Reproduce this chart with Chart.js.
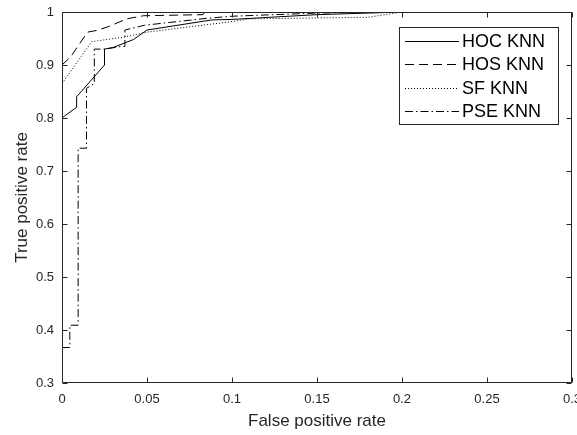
<!DOCTYPE html>
<html>
<head>
<meta charset="utf-8">
<script src="https://cdn.jsdelivr.net/npm/chart.js@4.4.1/dist/chart.umd.min.js"></script>
<style>
  html, body { margin: 0; padding: 0; background: #fff; }
  canvas { display: block; }
</style>
</head>
<body>
<canvas id="roc" width="577" height="435"></canvas>
<script>
// tick labels
const xTicks = [0, 0.05, 0.1, 0.15, 0.2, 0.25, 0.3];
const yTicks = [0.3, 0.4, 0.5, 0.6, 0.7, 0.8, 0.9, 1];

// ROC curves (false positive rate / true positive rate)
const hocFpr = [0, 0.002, 0.0086, 0.0086, 0.025, 0.025, 0.03, 0.042, 0.05, 0.088, 0.1, 0.15, 0.2, 0.3];
const hocTpr = [0.80, 0.805, 0.82, 0.84, 0.90, 0.93, 0.933, 0.948, 0.966, 0.985, 0.986, 0.995, 1, 1];

const hosFpr = [0, 0.005, 0.015, 0.02, 0.027, 0.038, 0.048, 0.083, 0.084, 0.3];
const hosTpr = [0.90, 0.915, 0.962, 0.965, 0.972, 0.987, 0.993, 0.995, 1, 1];

const sfFpr = [0, 0.0175, 0.037, 0.05, 0.07, 0.1, 0.11, 0.18, 0.2, 0.3];
const sfTpr = [0.865, 0.944, 0.953, 0.962, 0.97, 0.982, 0.987, 0.99, 1, 1];

const pseFpr = [0, 0.0046, 0.0046, 0.0095, 0.0095, 0.0144, 0.0144, 0.019, 0.019, 0.025, 0.035, 0.037, 0.037, 0.0485, 0.085, 0.1, 0.15, 0.2, 0.3];
const pseTpr = [0.367, 0.367, 0.409, 0.409, 0.743, 0.743, 0.856, 0.865, 0.93, 0.93, 0.935, 0.935, 0.966, 0.975, 0.988, 0.992, 0.998, 1, 1];

const seriesNames = ['HOC KNN', 'HOS KNN', 'SF KNN', 'PSE KNN'];

const AXIS = '#262626';
const FONT = '"Liberation Sans", Arial, Helvetica, sans-serif';

function zip(xs, ys) {
    return xs.map((v, i) => ({ x: v, y: ys[i] }));
}

function curve(label, xs, ys, dash) {
    return {
        label,
        data: zip(xs, ys),
        borderColor: '#000',
        borderWidth: 1,
        borderDash: dash,
        pointRadius: 0,
        tension: 0,
        fill: false
    };
}

// box, inward ticks and the MATLAB-like legend
const framePlugin = {
    id: 'frame',
    afterDraw(chart) {
        const { ctx, chartArea: a, scales: { x, y } } = chart;
        const L = Math.round(a.left) + 0.5, R = Math.round(a.right) - 0.5;
        const T = Math.round(a.top) + 0.5, B = Math.round(a.bottom) - 0.5;
        const tl = 5;
        ctx.save();
        ctx.strokeStyle = AXIS;
        ctx.lineWidth = 1;
        ctx.setLineDash([]);
        ctx.beginPath();
        ctx.rect(L, T, R - L, B - T);
        xTicks.forEach(v => {
            const px = Math.round(x.getPixelForValue(v)) + 0.5;
            ctx.moveTo(px, B); ctx.lineTo(px, B - tl);
            ctx.moveTo(px, T); ctx.lineTo(px, T + tl);
        });
        yTicks.forEach(v => {
            const py = Math.round(y.getPixelForValue(v)) + 0.5;
            ctx.moveTo(L, py); ctx.lineTo(L + tl, py);
            ctx.moveTo(R, py); ctx.lineTo(R - tl, py);
        });
        ctx.stroke();

        // legend
        const box = { left: 399.5, top: 27.5, right: 558.5, bottom: 124.5 };
        ctx.fillStyle = '#fff';
        ctx.fillRect(box.left, box.top, box.right - box.left, box.bottom - box.top);
        ctx.strokeStyle = AXIS;
        ctx.strokeRect(box.left, box.top, box.right - box.left, box.bottom - box.top);
        ctx.font = '18px ' + FONT;
        ctx.textBaseline = 'middle';
        ctx.textAlign = 'left';
        const rows = [41, 64, 88, 111];
        chart.data.datasets.forEach((ds, i) => {
            const yy = rows[i] + 0.5;
            ctx.strokeStyle = '#000';
            ctx.setLineDash(ds.borderDash || []);
            ctx.beginPath();
            ctx.moveTo(405, yy);
            ctx.lineTo(459, yy);
            ctx.stroke();
            ctx.setLineDash([]);
            ctx.fillStyle = '#000';
            ctx.fillText(ds.label, 462, rows[i] + 1);
        });
        ctx.restore();
    }
};

new Chart(document.getElementById('roc'), {
    type: 'line',
    data: {
        datasets: [
            curve(seriesNames[0], hocFpr, hocTpr, []),
            curve(seriesNames[1], hosFpr, hosTpr, [9, 5]),
            curve(seriesNames[2], sfFpr, sfTpr, [1, 2]),
            curve(seriesNames[3], pseFpr, pseTpr, [8, 3, 1.5, 3])
        ]
    },
    options: {
        responsive: false,
        animation: false,
        devicePixelRatio: 1,
        layout: { padding: { top: 12, right: 5, left: 0, bottom: 0 } },
        plugins: {
            legend: { display: false },
            tooltip: { enabled: false }
        },
        scales: {
            x: {
                type: 'linear',
                min: 0,
                max: 0.3,
                afterBuildTicks: s => { s.ticks = xTicks.map(v => ({ value: v })); },
                afterFit: s => { s.height = 52; s.paddingLeft = 0; s.paddingRight = 0; },
                grid: { display: false, drawTicks: false },
                border: { display: false },
                ticks: {
                    padding: 9,
                    color: AXIS,
                    font: { family: FONT, size: 13 },
                    maxRotation: 0,
                    callback: v => String(v)
                },
                title: {
                    display: true,
                    text: 'False positive rate',
                    color: AXIS,
                    font: { family: FONT, size: 17 },
                    padding: { top: 0, bottom: 3 }
                }
            },
            y: {
                type: 'linear',
                min: 0.3,
                max: 1,
                afterBuildTicks: s => { s.ticks = yTicks.map(v => ({ value: v })); },
                afterFit: s => { s.width = 62; s.paddingTop = 0; s.paddingBottom = 0; },
                grid: { display: false, drawTicks: false },
                border: { display: false },
                ticks: {
                    padding: 8,
                    color: AXIS,
                    font: { family: FONT, size: 13 },
                    callback: v => String(v)
                },
                title: {
                    display: true,
                    text: 'True positive rate',
                    color: AXIS,
                    font: { family: FONT, size: 17 },
                    padding: { top: 12, bottom: 0 }
                }
            }
        }
    },
    plugins: [framePlugin]
});
</script>
</body>
</html>
